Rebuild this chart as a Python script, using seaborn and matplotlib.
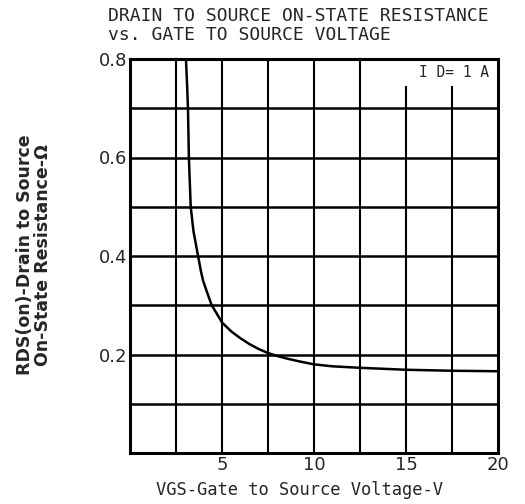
import matplotlib
matplotlib.use("Agg")
import matplotlib.pyplot as plt
import seaborn as sns
import pandas as pd
from matplotlib.patches import Rectangle

# Data
vgs = [3.04, 3.1, 3.15, 3.2, 3.3, 3.45, 3.6, 3.7, 3.85, 3.97, 4.2, 4.44, 4.7, 5.0, 5.5,
       6.0, 6.5, 7.0, 7.5, 8.0, 8.5, 9.2, 10.0, 11.0, 12.5, 15.0, 17.5, 20.0]
rds = [0.80, 0.75, 0.70, 0.60, 0.50, 0.45, 0.42, 0.40, 0.37, 0.35, 0.325, 0.30, 0.284, 0.265, 0.247,
       0.233, 0.221, 0.211, 0.203, 0.197, 0.192, 0.186, 0.180, 0.176, 0.173, 0.169, 0.167, 0.166]
x_ticks = [5, 10, 15, 20]
x_ticklabels = ["5", "10", "15", "20"]
y_ticks = [0.2, 0.4, 0.6, 0.8]
y_ticklabels = ["0.2", "0.4", "0.6", "0.8"]
x_grid = [2.5, 5, 7.5, 10, 12.5, 15, 17.5]
y_grid = [0.1, 0.2, 0.3, 0.4, 0.5, 0.6, 0.7]

sns.set_style("white")
plt.rcParams["font.family"] = ["DejaVu Sans"]

fig = plt.figure(figsize=(5.25, 5.04), dpi=100)
ax = fig.add_axes([130/525, 1-453/504, 368/525, 394/504])

df = pd.DataFrame({"VGS": vgs, "RDS": rds})
sns.lineplot(data=df, x="VGS", y="RDS", ax=ax, color="black", linewidth=1.8, zorder=4, sort=False)

ax.set_xlim(0, 20)
ax.set_ylim(0, 0.8)
for gx in x_grid:
    ax.axvline(gx, color="black", linewidth=1.5, zorder=2)
for gy in y_grid:
    ax.axhline(gy, color="black", linewidth=1.8, zorder=2)

# blank area behind the current label
ax.add_patch(Rectangle((14.2, 0.745), 5.7, 0.06, facecolor="white", edgecolor="none", zorder=3))
ax.text(17.6, 0.772, "I D= 1 A", ha="center", va="center", fontsize=10.5,
        family="DejaVu Sans Mono", zorder=5)

ax.set_xticks(x_ticks)
ax.set_xticklabels(x_ticklabels, fontsize=13)
ax.set_yticks(y_ticks)
ax.set_yticklabels(y_ticklabels, fontsize=13)
ax.tick_params(length=0, pad=2)
ax.set_xlabel("")
ax.set_ylabel("")
for s in ax.spines.values():
    s.set_visible(True)
    s.set_color("black")
    s.set_linewidth(2.2)
    s.set_zorder(6)

fig.text(108/525, 1-16/504, "DRAIN TO SOURCE ON-STATE RESISTANCE", ha="left", va="center",
         fontsize=13, family="DejaVu Sans Mono")
fig.text(108/525, 1-35/504, "vs. GATE TO SOURCE VOLTAGE", ha="left", va="center",
         fontsize=13, family="DejaVu Sans Mono")
fig.text(300/525, 1-490/504, "VGS-Gate to Source Voltage-V", ha="center", va="center",
         fontsize=12.3, family="DejaVu Sans Mono")
fig.text(34/525, 1-255/504, "RDS(on)-Drain to Source\nOn-State Resistance-Ω", ha="center", va="center",
         rotation=90, fontsize=12.5, fontweight="bold", linespacing=1.05)

fig.savefig("out.png", dpi=100)
